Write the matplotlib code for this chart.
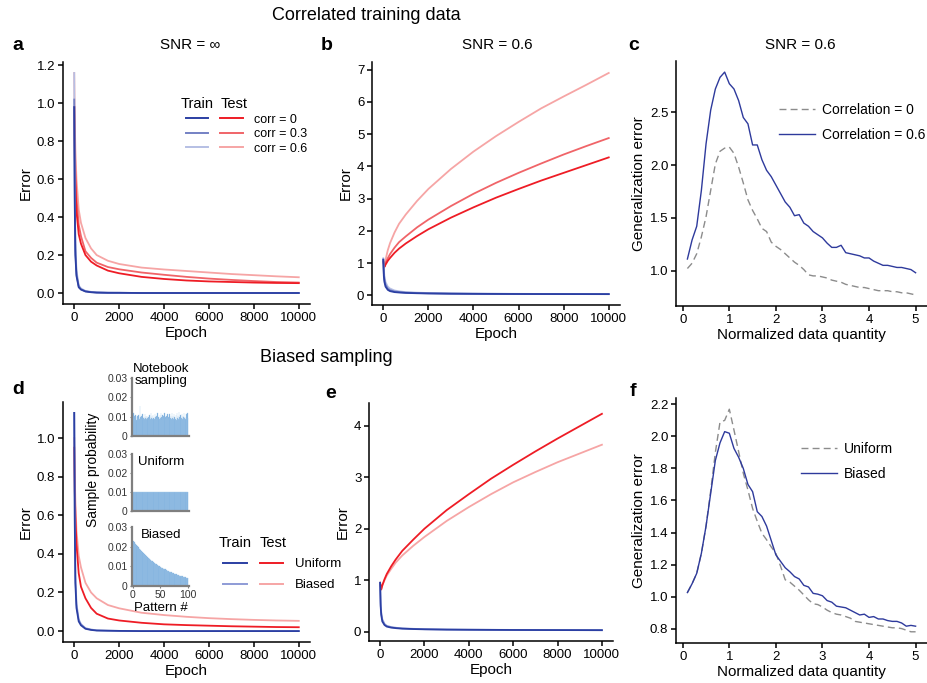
import numpy as np
import matplotlib.pyplot as plt

plt.rcParams['font.family'] = ['Liberation Sans', 'DejaVu Sans']
plt.rcParams['axes.linewidth'] = 1.1

# ---- colours
BLUE = ['#2B3FA3', '#7481C4', '#B6BFE4']
RED = ['#EE1C25', '#F06468', '#F6A5A5']
GRAY = '#8C8C8C'
BAR = '#6FA6D8'

# ---- panel a: SNR = inf, correlated training data
epochs = [0, 25, 50, 100, 200, 300, 500, 750, 1000, 1500, 2000, 3000, 4000, 5000, 6000, 7000, 8000, 9000, 10000]
a_train = [
    [0.98, 0.45, 0.2, 0.09, 0.03, 0.018, 0.008, 0.004, 0.002, 0.001, 0.001, 0, 0, 0, 0, 0, 0, 0, 0],
    [1.02, 0.5, 0.23, 0.1, 0.035, 0.02, 0.009, 0.005, 0.003, 0.001, 0.001, 0, 0, 0, 0, 0, 0, 0, 0],
    [1.16, 0.56, 0.27, 0.12, 0.04, 0.024, 0.011, 0.006, 0.003, 0.002, 0.001, 0, 0, 0, 0, 0, 0, 0, 0],
]
a_test = [
    [0.98, 0.72, 0.58, 0.43, 0.31, 0.26, 0.2, 0.165, 0.145, 0.118, 0.104, 0.085, 0.074, 0.066, 0.061, 0.058, 0.055, 0.053, 0.052],
    [0.98, 0.78, 0.65, 0.5, 0.36, 0.3, 0.22, 0.185, 0.16, 0.137, 0.125, 0.108, 0.096, 0.085, 0.076, 0.069, 0.063, 0.058, 0.055],
    [1.16, 0.9, 0.76, 0.6, 0.44, 0.37, 0.29, 0.235, 0.2, 0.17, 0.153, 0.134, 0.124, 0.116, 0.108, 0.1, 0.094, 0.088, 0.083],
]
corr_labels = ['corr = 0', 'corr = 0.3', 'corr = 0.6']

# ---- panel b: SNR = 0.6
b_train = [
    [1.1, 0.6, 0.42, 0.27, 0.17, 0.13, 0.1, 0.085, 0.075, 0.065, 0.058, 0.05, 0.046, 0.043, 0.041, 0.04, 0.039, 0.038, 0.037],
    [1.12, 0.68, 0.5, 0.33, 0.21, 0.16, 0.12, 0.1, 0.085, 0.072, 0.064, 0.054, 0.049, 0.046, 0.043, 0.041, 0.04, 0.039, 0.038],
    [1.15, 0.78, 0.6, 0.41, 0.27, 0.21, 0.15, 0.12, 0.1, 0.083, 0.072, 0.06, 0.053, 0.049, 0.046, 0.043, 0.041, 0.04, 0.039],
]
epochs_up = [0, 50, 100, 200, 300, 500, 700, 1000, 1500, 2000, 3000, 4000, 5000, 6000, 7000, 8000, 9000, 10000]
b_test = [
    [1.05, 0.88, 0.95, 1.07, 1.16, 1.32, 1.45, 1.61, 1.84, 2.05, 2.41, 2.73, 3.03, 3.3, 3.56, 3.8, 4.04, 4.28],
    [1.05, 0.9, 1.0, 1.15, 1.28, 1.48, 1.65, 1.83, 2.11, 2.35, 2.77, 3.15, 3.49, 3.8, 4.09, 4.37, 4.63, 4.88],
    [1.05, 0.92, 1.1, 1.4, 1.62, 1.95, 2.22, 2.51, 2.93, 3.3, 3.92, 4.46, 4.94, 5.38, 5.8, 6.17, 6.53, 6.9],
]

# ---- panels c and f: generalization error vs normalized data quantity
quantity = [round(0.1 * i, 1) for i in range(1, 51)]
c_corr0 = [1.02, 1.07, 1.16, 1.32, 1.51, 1.76, 2.01, 2.13, 2.16, 2.17,
           2.11, 1.98, 1.83, 1.67, 1.57, 1.49, 1.40, 1.37, 1.27, 1.23,
           1.20, 1.16, 1.12, 1.08, 1.05, 1.01, 0.96, 0.95, 0.95, 0.94,
           0.93, 0.91, 0.90, 0.89, 0.87, 0.86, 0.85, 0.84, 0.84, 0.83,
           0.82, 0.81, 0.81, 0.81, 0.80, 0.80, 0.79, 0.79, 0.78, 0.77]
c_corr06 = [1.11, 1.29, 1.42, 1.76, 2.20, 2.52, 2.72, 2.83, 2.88, 2.77,
            2.72, 2.61, 2.45, 2.39, 2.19, 2.19, 2.05, 1.95, 1.89, 1.81,
            1.73, 1.65, 1.60, 1.52, 1.53, 1.45, 1.42, 1.37, 1.34, 1.31,
            1.26, 1.22, 1.22, 1.24, 1.17, 1.16, 1.15, 1.14, 1.12, 1.12,
            1.09, 1.07, 1.05, 1.05, 1.04, 1.03, 1.03, 1.02, 1.01, 0.98]
f_uniform = [1.025, 1.08, 1.145, 1.27, 1.44, 1.66, 1.90, 2.09, 2.10, 2.17,
             2.04, 1.905, 1.77, 1.665, 1.55, 1.47, 1.395, 1.355, 1.31, 1.27,
             1.19, 1.105, 1.09, 1.065, 1.04, 1.01, 0.98, 0.955, 0.95, 0.935,
             0.915, 0.90, 0.89, 0.885, 0.875, 0.865, 0.845, 0.84, 0.835, 0.83,
             0.825, 0.82, 0.815, 0.81, 0.805, 0.805, 0.80, 0.79, 0.78, 0.78]
f_biased = [1.025, 1.08, 1.145, 1.27, 1.44, 1.645, 1.85, 1.96, 2.03, 2.02,
            1.925, 1.87, 1.80, 1.70, 1.655, 1.53, 1.50, 1.44, 1.35, 1.26,
            1.22, 1.18, 1.155, 1.125, 1.11, 1.07, 1.06, 1.02, 1.015, 1.005,
            0.975, 0.965, 0.94, 0.935, 0.93, 0.915, 0.90, 0.885, 0.89, 0.87,
            0.875, 0.86, 0.86, 0.85, 0.845, 0.845, 0.835, 0.815, 0.82, 0.815]

# ---- panel d: SNR = inf, biased sampling
d_train = [
    [1.13, 0.55, 0.25, 0.12, 0.05, 0.03, 0.012, 0.006, 0.003, 0.002, 0.001, 0, 0, 0, 0, 0, 0, 0, 0],
    [1.13, 0.6, 0.29, 0.14, 0.06, 0.036, 0.015, 0.008, 0.004, 0.002, 0.001, 0, 0, 0, 0, 0, 0, 0, 0],
]
d_test = [
    [0.95, 0.72, 0.6, 0.45, 0.3, 0.23, 0.17, 0.12, 0.09, 0.065, 0.055, 0.043, 0.035, 0.031, 0.028, 0.025, 0.023, 0.021, 0.02],
    [1.0, 0.8, 0.68, 0.52, 0.39, 0.33, 0.25, 0.2, 0.17, 0.135, 0.118, 0.095, 0.083, 0.074, 0.067, 0.062, 0.058, 0.055, 0.053],
]
sampling_labels = ['Uniform', 'Biased']

# ---- panel e: SNR = 0.6, biased sampling
e_train = [
    [0.95, 0.5, 0.33, 0.2, 0.13, 0.1, 0.08, 0.068, 0.06, 0.052, 0.047, 0.041, 0.038, 0.036, 0.034, 0.033, 0.032, 0.031, 0.03],
    [0.95, 0.56, 0.38, 0.24, 0.15, 0.115, 0.09, 0.075, 0.065, 0.056, 0.05, 0.043, 0.04, 0.037, 0.035, 0.034, 0.033, 0.032, 0.031],
]
e_test = [
    [0.95, 0.82, 0.9, 1.02, 1.12, 1.27, 1.4, 1.57, 1.79, 2.0, 2.36, 2.67, 2.97, 3.24, 3.5, 3.75, 3.99, 4.23],
    [0.95, 0.82, 0.9, 1.0, 1.09, 1.22, 1.34, 1.48, 1.67, 1.84, 2.15, 2.42, 2.67, 2.9, 3.1, 3.29, 3.46, 3.63],
]

# ---- inset histograms (sample probability per pattern)
notebook_prob = [0.0118, 0.0092, 0.0105, 0.0088, 0.0110, 0.0097, 0.0085, 0.0102, 0.0091, 0.0108,
                 0.0095, 0.0087, 0.0155, 0.0099, 0.0090, 0.0104, 0.0086, 0.0112, 0.0093, 0.0098,
                 0.0089, 0.0115, 0.0094, 0.0101, 0.0087, 0.0106, 0.0092, 0.0099, 0.0084, 0.0111,
                 0.0096, 0.0090, 0.0117, 0.0093, 0.0102, 0.0088, 0.0109, 0.0095, 0.0086, 0.0113,
                 0.0098, 0.0091, 0.0105, 0.0089, 0.0120, 0.0094, 0.0100, 0.0087, 0.0107, 0.0092,
                 0.0118, 0.0096, 0.0085, 0.0110, 0.0093, 0.0103, 0.0090, 0.0121, 0.0097, 0.0088,
                 0.0106, 0.0094, 0.0116, 0.0091, 0.0099, 0.0086, 0.0112, 0.0095, 0.0104, 0.0089,
                 0.0119, 0.0093, 0.0101, 0.0087, 0.0114, 0.0096, 0.0090, 0.0108, 0.0085, 0.0117,
                 0.0094, 0.0102, 0.0088, 0.0122, 0.0097, 0.0091, 0.0109, 0.0093, 0.0115, 0.0089,
                 0.0104, 0.0096, 0.0120, 0.0092, 0.0100, 0.0087, 0.0113, 0.0095, 0.0118, 0.0091]
uniform_prob = [0.01] * 100
biased_prob = [0.0230, 0.0226, 0.0222, 0.0218, 0.0214, 0.0211, 0.0207, 0.0203, 0.0200, 0.0196,
               0.0193, 0.0190, 0.0186, 0.0183, 0.0180, 0.0177, 0.0174, 0.0171, 0.0168, 0.0165,
               0.0162, 0.0159, 0.0156, 0.0154, 0.0151, 0.0148, 0.0146, 0.0143, 0.0141, 0.0138,
               0.0136, 0.0134, 0.0131, 0.0129, 0.0127, 0.0125, 0.0122, 0.0120, 0.0118, 0.0116,
               0.0114, 0.0112, 0.0110, 0.0108, 0.0106, 0.0105, 0.0103, 0.0101, 0.0099, 0.0098,
               0.0096, 0.0094, 0.0093, 0.0091, 0.0090, 0.0088, 0.0087, 0.0085, 0.0084, 0.0082,
               0.0081, 0.0079, 0.0078, 0.0077, 0.0075, 0.0074, 0.0073, 0.0072, 0.0070, 0.0069,
               0.0068, 0.0067, 0.0066, 0.0064, 0.0063, 0.0062, 0.0061, 0.0060, 0.0059, 0.0058,
               0.0057, 0.0056, 0.0055, 0.0054, 0.0053, 0.0052, 0.0051, 0.0050, 0.0049, 0.0049,
               0.0048, 0.0047, 0.0046, 0.0045, 0.0044, 0.0044, 0.0043, 0.0042, 0.0041, 0.0041]

W, H = 927, 683
fig = plt.figure(figsize=(W / 100, H / 100), dpi=100)


def box(l, t, r, b):
    return [l / W, 1 - b / H, (r - l) / W, (b - t) / H]


def style(ax, size=9.5):
    for s in ['top', 'right']:
        ax.spines[s].set_visible(False)
    ax.tick_params(direction='out', length=3.5, width=1.1, labelsize=size, pad=2)


def ftext(x, y, s, **kw):
    fig.text(x / W, 1 - y / H, s, **kw)


def epoch_axis(ax, ylim):
    ax.set_xlim(-500, 10500)
    ax.set_ylim(*ylim)
    ax.set_xticks([0, 2000, 4000, 6000, 8000, 10000])
    ax.set_xlabel('Epoch', fontsize=11, labelpad=2)
    ax.set_ylabel('Error', fontsize=11, labelpad=3)
    style(ax)


def two_col_legend(ax, blues, reds, labels, x_train, x_test, y, fs, title_fs, spacing):
    h_tr = [plt.Line2D([], [], color=c, lw=1.4) for c in blues]
    h_te = [plt.Line2D([], [], color=c, lw=1.4) for c in reds]
    leg1 = ax.legend(h_tr, [''] * len(h_tr), title='Train', loc='upper left',
                     bbox_to_anchor=(x_train / W, 1 - y / H), bbox_transform=fig.transFigure,
                     frameon=False, fontsize=fs, title_fontsize=title_fs, handlelength=1.8,
                     handletextpad=0, borderpad=0, labelspacing=spacing)
    ax.add_artist(leg1)
    ax.legend(h_te, labels, title='Test', loc='upper left', alignment='left',
              bbox_to_anchor=(x_test / W, 1 - y / H), bbox_transform=fig.transFigure,
              frameon=False, fontsize=fs, title_fontsize=title_fs, handlelength=1.8,
              handletextpad=0.9, borderpad=0, labelspacing=spacing)


# ---------------- panel a
ax = fig.add_axes(box(63, 62, 310, 304))
for vals, c in zip(a_test[::-1], RED[::-1]):
    ax.plot(epochs, vals, color=c, lw=1.3)
for vals, c in zip(a_train[::-1], BLUE[::-1]):
    ax.plot(epochs, vals, color=c, lw=1.3)
epoch_axis(ax, (-0.058, 1.218))
ax.set_yticks([0, 0.2, 0.4, 0.6, 0.8, 1.0, 1.2])
ax.set_yticklabels(['0.0', '0.2', '0.4', '0.6', '0.8', '1.0', '1.2'])
two_col_legend(ax, BLUE, RED, corr_labels, 174, 214, 91, 9, 10.5, 0.2)

# ---------------- panel b
ax = fig.add_axes(box(372, 62, 620, 305))
for vals, c in zip(b_test[::-1], RED[::-1]):
    ax.plot(epochs_up, vals, color=c, lw=1.3)
for vals, c in zip(b_train[::-1], BLUE[::-1]):
    ax.plot(epochs, vals, color=c, lw=1.3)
epoch_axis(ax, (-0.30, 7.24))
ax.set_yticks(range(0, 8))

# ---------------- panel c
ax = fig.add_axes(box(676, 61, 927, 306))
ax.plot(quantity, c_corr0, color=GRAY, lw=1.0, ls=(0, (5, 3)), label='Correlation = 0')
ax.plot(quantity, c_corr06, color='#2E3A9C', lw=1.0, label='Correlation = 0.6')
ax.set_xlim(-0.145, 5.245)
ax.set_ylim(0.665, 2.985)
ax.set_xticks([0, 1, 2, 3, 4, 5])
ax.set_yticks([1.0, 1.5, 2.0, 2.5])
ax.set_yticklabels(['1.0', '1.5', '2.0', '2.5'])
ax.set_xlabel('Normalized data quantity', fontsize=11, labelpad=2)
ax.set_ylabel('Generalization error', fontsize=11, labelpad=3)
style(ax)
ax.legend(loc='upper left', bbox_to_anchor=(772 / W, 1 - 96 / H), bbox_transform=fig.transFigure,
          frameon=False, fontsize=10, handlelength=2.6, handletextpad=0.5, labelspacing=0.8,
          borderpad=0)

# ---------------- panel d
ax = fig.add_axes(box(63, 402, 310, 642))
for vals, c in zip(d_test[::-1], RED[::2][::-1]):
    ax.plot(epochs, vals, color=c, lw=1.3)
for vals, c in zip(d_train[::-1], [BLUE[0], '#8E9BD6'][::-1]):
    ax.plot(epochs, vals, color=c, lw=1.3)
epoch_axis(ax, (-0.0565, 1.1865))
ax.set_yticks([0, 0.2, 0.4, 0.6, 0.8, 1.0])
ax.set_yticklabels(['0.0', '0.2', '0.4', '0.6', '0.8', '1.0'])
two_col_legend(ax, [BLUE[0], '#8E9BD6'], RED[::2], sampling_labels, 212, 253, 529, 9.5, 10.5, 0.65)

# insets
insets = [(notebook_prob, 378, 436, 'Notebook\nsampling'),
          (uniform_prob, 454, 511, 'Uniform'),
          (biased_prob, 527, 586, 'Biased')]
for i, (vals, top, bot, name) in enumerate(insets):
    ia = fig.add_axes(box(132, top, 189, bot))
    ia.bar(np.arange(1, len(vals) + 1), vals, width=1.0, color=BAR,
           edgecolor='#A8CBEA', linewidth=0.25)
    ia.set_xlim(-1.5, 102)
    ia.set_ylim(0, 0.03)
    ia.set_yticks([0, 0.01, 0.02, 0.03])
    ia.set_yticklabels(['0', '0.01', '0.02', '0.03'])
    for s in ['top', 'right']:
        ia.spines[s].set_visible(False)
    for s in ['left', 'bottom']:
        ia.spines[s].set_color('#7F7F7F')
        ia.spines[s].set_linewidth(1.6)
    ia.tick_params(length=1.5, color='#7F7F7F', labelsize=7.5, pad=1.5, labelcolor='#333333')
    if i < 2:
        ia.set_xticks([])
    else:
        ia.set_xticks([0, 50, 100])
        ia.set_xlabel('Pattern #', fontsize=9.5, labelpad=1)
    ia.patch.set_alpha(0)
    if i == 0:
        ftext(161, 375, name, fontsize=9.5, ha='center', va='center', linespacing=1.05)
    else:
        ftext(161, top + 8, name, fontsize=9.5, ha='center', va='center')
ftext(93, 470, 'Sample probability', fontsize=10, rotation=90, ha='center', va='center')

# ---------------- panel e
ax = fig.add_axes(box(369, 403, 613, 641))
for vals, c in zip(e_test[::-1], RED[::2][::-1]):
    ax.plot(epochs_up, vals, color=c, lw=1.3)
for vals, c in zip(e_train[::-1], [BLUE[0], '#8E9BD6'][::-1]):
    ax.plot(epochs, vals, color=c, lw=1.3)
epoch_axis(ax, (-0.18, 4.44))
ax.set_yticks(range(0, 5))

# ---------------- panel f
ax = fig.add_axes(box(676, 398, 927, 643))
ax.plot(quantity, f_uniform, color=GRAY, lw=1.0, ls=(0, (5, 3)), label='Uniform')
ax.plot(quantity, f_biased, color='#2E3A9C', lw=1.0, label='Biased')
ax.set_xlim(-0.145, 5.245)
ax.set_ylim(0.71, 2.24)
ax.set_xticks([0, 1, 2, 3, 4, 5])
ax.set_yticks([0.8, 1.0, 1.2, 1.4, 1.6, 1.8, 2.0, 2.2])
ax.set_yticklabels(['0.8', '1.0', '1.2', '1.4', '1.6', '1.8', '2.0', '2.2'])
ax.set_xlabel('Normalized data quantity', fontsize=11, labelpad=2)
ax.set_ylabel('Generalization error', fontsize=11, labelpad=3)
style(ax)
ax.legend(loc='upper left', bbox_to_anchor=(794 / W, 1 - 435 / H), bbox_transform=fig.transFigure,
          frameon=False, fontsize=10, handlelength=2.6, handletextpad=0.5, labelspacing=0.8,
          borderpad=0)

# ---------------- titles and panel letters
ftext(366, 15, 'Correlated training data', fontsize=13, ha='center', va='center')
ftext(326, 358, 'Biased sampling', fontsize=13, ha='center', va='center')
ftext(190, 45, 'SNR = ∞', fontsize=11, ha='center', va='center')
ftext(497, 45, 'SNR = 0.6', fontsize=11, ha='center', va='center')
ftext(800, 45, 'SNR = 0.6', fontsize=11, ha='center', va='center')
for letter, x, y in [('a', 18, 45), ('b', 327, 45), ('c', 634, 45),
                     ('d', 18, 390), ('e', 331, 393), ('f', 633, 392)]:
    ftext(x, y, letter, fontsize=14, fontweight='bold', ha='center', va='center')

fig.savefig('out.png', dpi=100)
